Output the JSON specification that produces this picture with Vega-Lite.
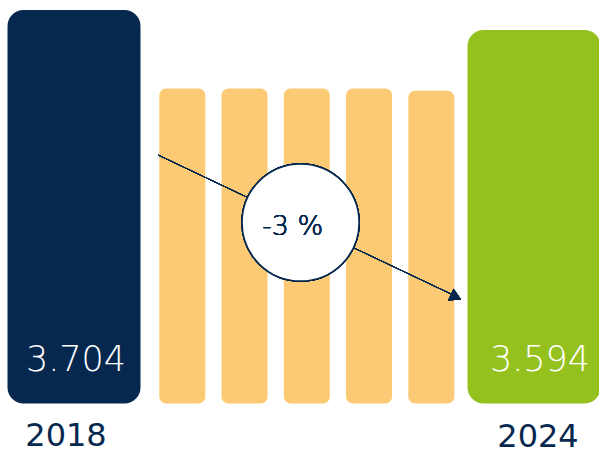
{
  "$schema": "https://vega.github.io/schema/vega-lite/v6.json",
  "width": 599,
  "height": 452,
  "autosize": "none",
  "padding": 0,
  "background": "white",
  "config": {"view": {"stroke": null}},
  "data": {
    "values": [
      {"year": 2018, "value": 3704, "label": "3.704", "kind": "end"},
      {"year": 2019, "value": 3272, "label": "", "kind": "mid"},
      {"year": 2020, "value": 3272, "label": "", "kind": "mid"},
      {"year": 2021, "value": 3272, "label": "", "kind": "mid"},
      {"year": 2022, "value": 3272, "label": "", "kind": "mid"},
      {"year": 2023, "value": 3260, "label": "", "kind": "mid"},
      {"year": 2024, "value": 3594, "label": "3.594", "kind": "end"}
    ]
  },
  "encoding": {
    "x": {"field": "year", "type": "quantitative", "axis": null,
          "scale": {"domain": [2018, 2019, 2023, 2024], "range": [74, 182.3, 431.3, 534], "zero": false, "nice": false, "padding": 0}},
    "y": {"field": "value", "type": "quantitative", "axis": null,
          "scale": {"domain": [1273, 3759], "zero": false, "nice": false, "padding": 0}}
  },
  "layer": [
    {
      "transform": [{"filter": "datum.kind == 'end'"}],
      "mark": {"type": "bar", "cornerRadius": 16, "size": 133},
      "encoding": {
        "y2": {"datum": 1540},
        "color": {"field": "year", "type": "nominal", "legend": null,
                  "scale": {"domain": [2018, 2024], "range": ["#06284f", "#95c11f"]}}
      }
    },
    {
      "transform": [{"filter": "datum.kind == 'mid'"}],
      "mark": {"type": "bar", "cornerRadius": 7, "size": 46, "color": "#fcca75"},
      "encoding": {"y2": {"datum": 1540}}
    },
    {
      "mark": {"type": "rule", "color": "#06284f", "strokeWidth": 1},
      "encoding": {
        "x": {"datum": 2018.778, "type": "quantitative"},
        "x2": {"datum": 2023.2},
        "y": {"datum": 2906, "type": "quantitative"},
        "y2": {"datum": 2140}
      }
    },
    {
      "mark": {"type": "point", "shape": "triangle-right", "filled": true, "color": "#06284f", "size": 170, "angle": 25.5, "opacity": 1},
      "encoding": {
        "x": {"datum": 2023.24, "type": "quantitative"},
        "y": {"datum": 2125, "type": "quantitative"}
      }
    },
    {
      "mark": {"type": "point", "shape": "circle", "filled": true, "fill": "white", "stroke": "#06284f", "strokeWidth": 1.5, "size": 13700, "opacity": 1},
      "encoding": {
        "x": {"datum": 2020.9, "type": "quantitative"},
        "y": {"datum": 2535, "type": "quantitative"}
      }
    },
    {
      "mark": {"type": "text", "text": "-3 %", "font": "DejaVu Sans", "fontWeight": 200, "fontSize": 27, "color": "#06284f", "align": "center", "baseline": "alphabetic", "dx": -8, "dy": 12},
      "encoding": {
        "x": {"datum": 2020.9, "type": "quantitative"},
        "y": {"datum": 2535, "type": "quantitative"}
      }
    },
    {
      "transform": [{"filter": "datum.year == 2018"}],
      "mark": {"type": "text", "font": "DejaVu Sans", "fontWeight": 200, "fontSize": 35, "color": "white", "align": "center", "baseline": "alphabetic", "dy": -32, "dx": 2},
      "encoding": {
        "y": {"datum": 1540},
        "text": {"field": "label"}
      }
    },
    {
      "transform": [{"filter": "datum.year == 2024"}],
      "mark": {"type": "text", "font": "DejaVu Sans", "fontWeight": 200, "fontSize": 35, "color": "white", "align": "center", "baseline": "alphabetic", "dy": -32, "dx": 6},
      "encoding": {
        "y": {"datum": 1540},
        "text": {"field": "label"}
      }
    },
    {
      "transform": [{"filter": "datum.year == 2018"}],
      "mark": {"type": "text", "font": "DejaVu Sans", "fontWeight": "normal", "fontSize": 32, "color": "#06284f", "align": "center", "baseline": "alphabetic", "dy": 43, "dx": -8},
      "encoding": {
        "y": {"datum": 1540},
        "text": {"field": "year", "type": "nominal"}
      }
    },
    {
      "transform": [{"filter": "datum.year == 2024"}],
      "mark": {"type": "text", "font": "DejaVu Sans", "fontWeight": "normal", "fontSize": 32, "color": "#06284f", "align": "center", "baseline": "alphabetic", "dy": 44, "dx": 4},
      "encoding": {
        "y": {"datum": 1540},
        "text": {"field": "year", "type": "nominal"}
      }
    }
  ]
}
